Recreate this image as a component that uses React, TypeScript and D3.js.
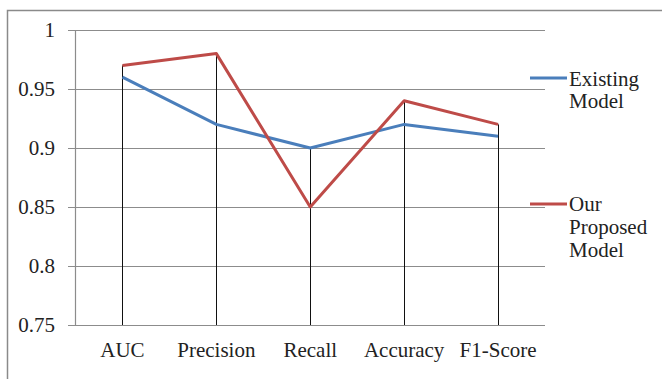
import React from "react";
import * as d3 from "d3";

const categories = ["AUC", "Precision", "Recall", "Accuracy", "F1-Score"];
const existingModel = [0.96, 0.92, 0.9, 0.92, 0.91];
const proposedModel = [0.97, 0.98, 0.85, 0.94, 0.92];
const yTicks = [0.75, 0.8, 0.85, 0.9, 0.95, 1];
const seriesNames = [["Existing", "Model"], ["Our", "Proposed", "Model"]];

const W = 662, H = 379;
const left = 75.5, right = 545, top = 30, bottom = 325;
const font = "Liberation Serif, Times New Roman, serif";
const fs = 21;
const blue = "#4A7EBB";
const red = "#BE4B48";

export default function App() {
  const x = d3.scaleBand().domain(categories).range([left, right]).padding(0);
  const y = d3.scaleLinear().domain([0.75, 1]).range([bottom, top]);
  const cx = (c: string) => (x(c) as number) + x.bandwidth() / 2;
  const line = d3.line<number>().x((_, i) => cx(categories[i])).y((d) => y(d));
  return (
    <svg width={W} height={H} style={{ position: "absolute", left: 0, top: 0, background: "#fff", fontFamily: font }}>
      <path d={`M7.5,${H} V10.5 H${W}`} fill="none" stroke="#8a8a8a" strokeWidth={1.5} />
      {yTicks.map((t) => (
        <g key={t}>
          <line x1={68} x2={right} y1={Math.round(y(t)) + 0.5} y2={Math.round(y(t)) + 0.5} stroke="#8c8c8c" strokeWidth={1.2} />
          <text x={55} y={y(t)} dy="0.35em" textAnchor="end" fontSize={fs} fill="#222">{t === 1 ? "1" : String(t)}</text>
        </g>
      ))}
      <line x1={left} x2={left} y1={top} y2={bottom} stroke="#8c8c8c" strokeWidth={1.2} />
      {categories.map((c, i) => (
        <g key={c}>
          <line x1={Math.round(cx(c)) + 0.5} x2={Math.round(cx(c)) + 0.5} y1={y(Math.max(existingModel[i], proposedModel[i]))} y2={bottom} stroke="#111" strokeWidth={1} />
          <text x={cx(c)} y={350} dy="0.35em" textAnchor="middle" fontSize={fs} fill="#222">{c}</text>
        </g>
      ))}
      <path d={line(existingModel) as string} fill="none" stroke={blue} strokeWidth={3} strokeLinejoin="round" />
      <path d={line(proposedModel) as string} fill="none" stroke={red} strokeWidth={3} strokeLinejoin="round" />
      <line x1={530} x2={567} y1={78} y2={78} stroke={blue} strokeWidth={3} />
      {seriesNames[0].map((s, i) => (
        <text key={s} x={569} y={79 + i * 22} dy="0.35em" fontSize={fs} fill="#222">{s}</text>
      ))}
      <line x1={530} x2={567} y1={204} y2={204} stroke={red} strokeWidth={3} />
      {seriesNames[1].map((s, i) => (
        <text key={s + i} x={569} y={204 + i * 23} dy="0.35em" fontSize={fs} fill="#222">{s}</text>
      ))}
    </svg>
  );
}
